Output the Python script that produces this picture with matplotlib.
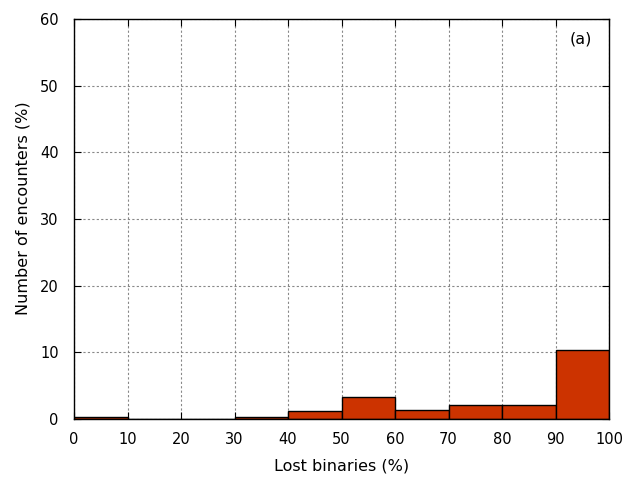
import matplotlib
matplotlib.use("Agg")
import matplotlib.pyplot as plt

bin_edges = [0, 10, 20, 30, 40, 50, 60, 70, 80, 90]
values = [0.3, 0.0, 0.0, 0.3, 1.24, 3.28, 1.34, 2.09, 2.09, 10.3]
xticks = [0, 10, 20, 30, 40, 50, 60, 70, 80, 90, 100]
yticks = [0, 10, 20, 30, 40, 50, 60]

plt.rcParams['font.family'] = ['DejaVu Sans']
fig = plt.figure(figsize=(6.44, 4.84), dpi=100)
ax = fig.add_axes([74/644, 1-419/484, (609-74)/644, (419-19)/484])

ax.bar(bin_edges, values, width=10, align='edge', color='#cc3300',
       edgecolor='black', linewidth=1, zorder=3)

ax.set_xlim(0, 100)
ax.set_ylim(0, 60)
ax.set_xticks(xticks)
ax.set_yticks(yticks)
ax.grid(True, linestyle=(0, (2, 2)), color='#888888', linewidth=0.8, zorder=0)
ax.tick_params(direction='in', length=5, top=True, right=True, labelsize=10.5)
ax.tick_params(axis='x', pad=9.5)
ax.tick_params(axis='y', pad=11)
for s in ax.spines.values():
    s.set_linewidth(1)
    s.set_zorder(4)
ax.set_xlabel('Lost binaries (%)', fontsize=11.5, labelpad=8)
ax.set_ylabel('Number of encounters (%)', fontsize=11.5)
ax.yaxis.set_label_coords(-0.081, 0.526)
ax.text(0.968, 0.95, '(a)', transform=ax.transAxes, ha='right', va='center', fontsize=11.5)

fig.savefig('out.png', dpi=100)
